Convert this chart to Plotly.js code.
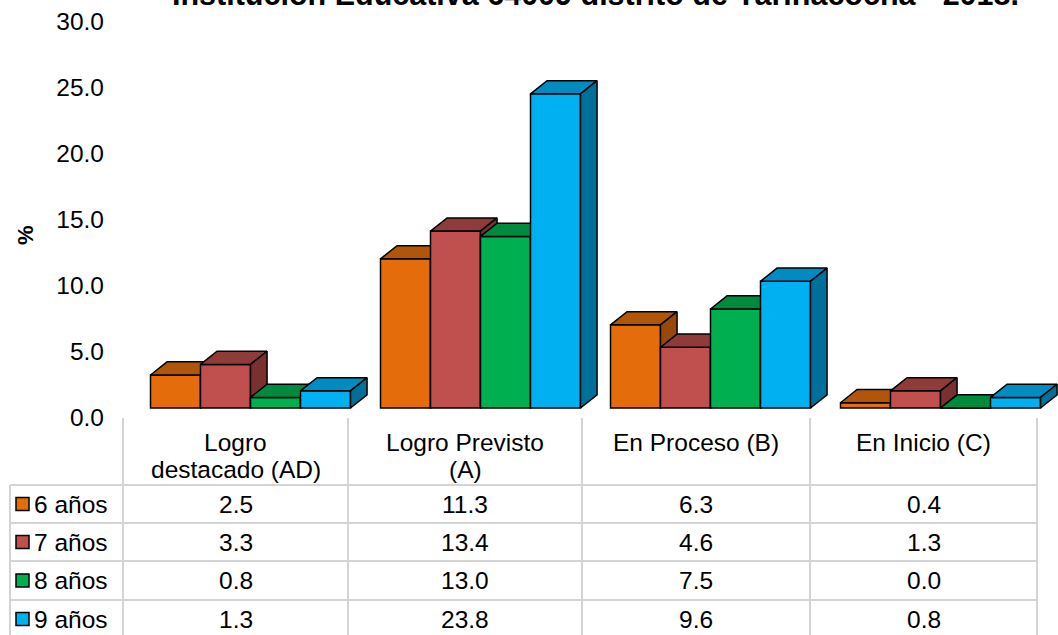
<!DOCTYPE html>
<html><head><meta charset="utf-8">
<script src="https://cdn.plot.ly/plotly-3.0.1.min.js"></script>
<style>html,body{margin:0;padding:0;background:#fff}#chart{width:1058px;height:635px}</style>
</head><body><div id="chart"></div>
<script>
// ---- data ----
const categories = ['Logro destacado (AD)', 'Logro Previsto (A)', 'En Proceso (B)', 'En Inicio (C)'];
const categoryLabels = [['Logro', 'destacado (AD)'], ['Logro Previsto', '(A)'], ['En Proceso (B)'], ['En Inicio (C)']];
const seriesNames = ['6 años', '7 años', '8 años', '9 años'];
const v6 = [2.5, 11.3, 6.3, 0.4];
const v7 = [3.3, 13.4, 4.6, 1.3];
const v8 = [0.8, 13.0, 7.5, 0.0];
const v9 = [1.3, 23.8, 9.6, 0.8];
const yTicks = [0, 5, 10, 15, 20, 25, 30];
const titleText = 'Institución Educativa 64009 distrito de Yarinacocha - 2018.';

// ---- styles ----
const seriesValues = [v6, v7, v8, v9];
const frontColors = ['#E46C0A', '#C0504D', '#00B050', '#00B0F0'];
const topColors = ['#B0560A', '#8E3B39', '#008A3E', '#008CC0'];
const sideColors = ['#96490A', '#7A302E', '#007434', '#006F99'];
const BW = 0.2174, DX = 0.072, DY = 1.0;
const W = 1058, H = 635;
const FONT = 'Arial, "Liberation Sans", sans-serif';
const FS = 24.5;
const px = x => x / W;
const py = y => 1 - y / H;

const traces = [];
seriesValues.forEach((vals, s) => {
  const xs = categories.map((c, i) => i + (s - 1.5) * BW);
  traces.push({
    type: 'bar', x: xs, y: vals, width: BW, name: seriesNames[s],
    marker: {color: frontColors[s], line: {color: '#000', width: 1.5}},
    showlegend: false, hoverinfo: 'skip', zorder: s
  });
  const tx = [], ty = [], sx = [], sy = [];
  vals.forEach((v, i) => {
    const l = xs[i] - BW / 2, r = xs[i] + BW / 2;
    tx.push(l, l + DX, r + DX, r, l, null);
    ty.push(v, v + DY, v + DY, v, v, null);
    sx.push(r, r + DX, r + DX, r, r, null);
    sy.push(0, DY, v + DY, v, 0, null);
  });
  traces.push({type: 'scatter', mode: 'lines', x: tx, y: ty, fill: 'toself', fillcolor: topColors[s],
    line: {color: '#000', width: 1.5}, showlegend: false, hoverinfo: 'skip', zorder: s});
  traces.push({type: 'scatter', mode: 'lines', x: sx, y: sy, fill: 'toself', fillcolor: sideColors[s],
    line: {color: '#000', width: 1.5}, showlegend: false, hoverinfo: 'skip', zorder: s});
});
traces.push({type: 'scatter', x: [null], y: [null], yaxis: 'y2', showlegend: false, hoverinfo: 'skip'});

// ---- table ----
const shapes = [];
const annotations = [];
const grid = {color: '#d4d4d4', width: 2};
const colX = [123, 348, 582, 810, 1037];
const rowY = [485, 523, 561, 600];
colX.forEach(x => shapes.push({type: 'line', xref: 'paper', yref: 'paper', x0: px(x), x1: px(x), y0: py(418), y1: py(640), line: grid}));
shapes.push({type: 'line', xref: 'paper', yref: 'paper', x0: px(10), x1: px(10), y0: py(485), y1: py(640), line: grid});
rowY.forEach(y => shapes.push({type: 'line', xref: 'paper', yref: 'paper', x0: px(10), x1: px(1037), y0: py(y), y1: py(y), line: grid}));

const txtFont = {family: FONT, size: FS, color: '#000'};
categoryLabels.forEach((lines, i) => {
  const cx = (colX[i] + colX[i + 1]) / 2;
  lines.forEach((t, k) => {
    annotations.push({xref: 'paper', yref: 'paper', x: px(cx), y: py(442 + 27 * k), xanchor: 'center', yanchor: 'middle',
      text: t, showarrow: false, font: txtFont});
  });
});
seriesNames.forEach((n, s) => {
  const cy = (s < 3) ? (rowY[s] + rowY[s + 1]) / 2 : 619;
  shapes.push({type: 'rect', xref: 'paper', yref: 'paper', x0: px(16), x1: px(29), y0: py(cy - 6.5), y1: py(cy + 6.5),
    fillcolor: frontColors[s], line: {color: '#000', width: 1.5}});
  annotations.push({xref: 'paper', yref: 'paper', x: px(32), y: py(cy), xanchor: 'left', yanchor: 'middle',
    text: n, showarrow: false, font: txtFont});
  seriesValues[s].forEach((v, i) => {
    const cx = (colX[i] + colX[i + 1]) / 2;
    annotations.push({xref: 'paper', yref: 'paper', x: px(cx), y: py(cy), xanchor: 'center', yanchor: 'middle',
      text: v.toFixed(1), showarrow: false, font: txtFont});
  });
});
annotations.push({xref: 'paper', yref: 'paper', x: px(25), y: py(235), xanchor: 'center', yanchor: 'middle',
  text: '<b>%</b>', textangle: -90, showarrow: false, font: {family: FONT, size: 22, color: '#000'}});
// chart title (cut off at the top edge, as in the reference)
annotations.push({xref: 'paper', yref: 'paper', x: px(595), y: py(-6), xanchor: 'center', yanchor: 'middle',
  text: '<b>' + titleText + '</b>', showarrow: false, font: {family: FONT, size: 30.5, color: '#000'}});

const layout = {
  width: W, height: H,
  margin: {l: 0, r: 0, t: 0, b: 0},
  paper_bgcolor: '#fff', plot_bgcolor: 'rgba(0,0,0,0)',
  font: {family: FONT, size: FS, color: '#000'},
  xaxis: {range: [-250.5 / 230, (W - 250.5) / 230], domain: [0, 1], visible: false, fixedrange: true},
  yaxis: {range: [-(H - 408) / 13.2, 408 / 13.2], domain: [0, 1], visible: false, fixedrange: true},
  yaxis2: {overlaying: 'y', anchor: 'free', side: 'left', position: px(104),
    range: [-(H - 417) / 13.17, 417 / 13.17], tickvals: yTicks, ticktext: yTicks.map(t => t.toFixed(1)),
    showgrid: false, zeroline: false, showline: false, ticks: '', tickfont: txtFont},
  barmode: 'overlay',
  shapes: shapes, annotations: annotations
};
Plotly.newPlot('chart', traces, layout, {displayModeBar: false, staticPlot: true});
</script></body></html>
